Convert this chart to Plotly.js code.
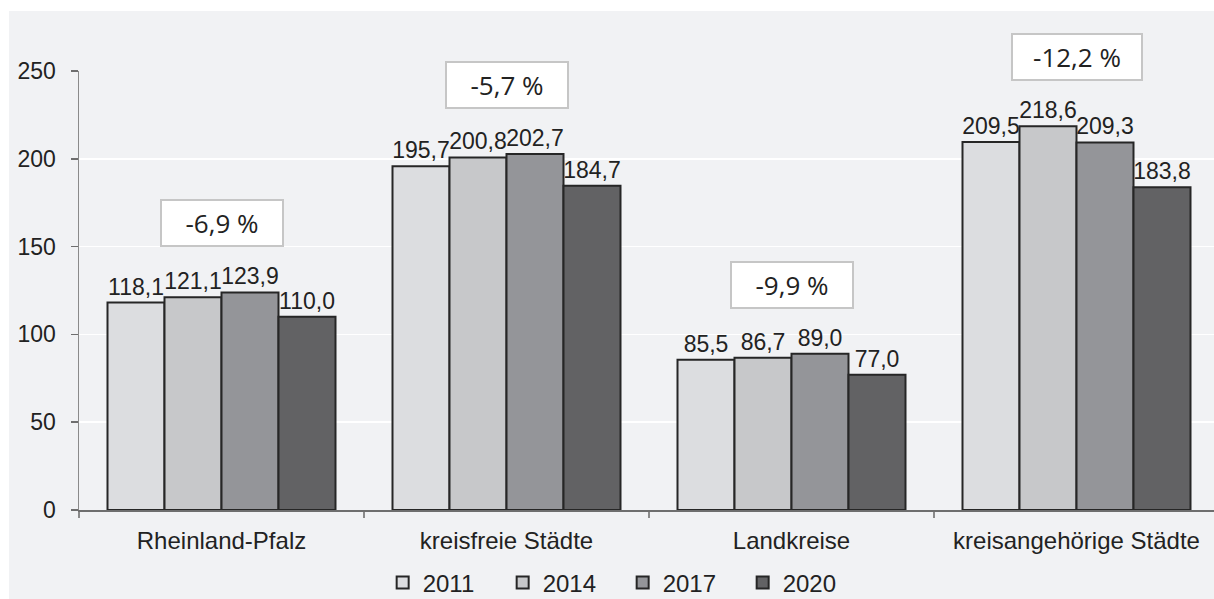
<!DOCTYPE html>
<html>
<head>
<meta charset="utf-8">
<script src="https://cdn.plot.ly/plotly-3.0.1.min.js"></script>
<style>
  html, body { margin: 0; padding: 0; background: #ffffff; }
  #chart { width: 1214px; height: 599px; }
</style>
</head>
<body>
<div id="chart"></div>
<script>
// ---- data ----
const categories = ["Rheinland-Pfalz", "kreisfreie Städte", "Landkreise", "kreisangehörige Städte"];
const years = ["2011", "2014", "2017", "2020"];
const values2011 = [118.1, 195.7, 85.5, 209.5];
const values2014 = [121.1, 200.8, 86.7, 218.6];
const values2017 = [123.9, 202.7, 89.0, 209.3];
const values2020 = [110.0, 184.7, 77.0, 183.8];
const changeLabels = ["-6,9 %", "-5,7 %", "-9,9 %", "-12,2 %"];
const yTicks = [0, 50, 100, 150, 200, 250];

// ---- styles ----
const colors = ["#dcdde0", "#c7c8ca", "#949599", "#626264"];
const series = [values2011, values2014, values2017, values2020];
const baseFont = "Liberation Sans, Arial, sans-serif";

const traces = series.map((vals, i) => ({
  type: "bar",
  name: years[i],
  x: categories,
  y: vals,
  marker: { color: colors[i], line: { color: "#262626", width: 2 } },
  texttemplate: "%{y:.1f}",
  textposition: "outside",
  textfont: { family: baseFont, size: 23, color: "#222222" },
  constraintext: "none",
  cliponaxis: false,
  hoverinfo: "skip"
}));

const annotations = categories.map((c, i) => {
  const top = Math.max(values2011[i], values2014[i], values2017[i], values2020[i]);
  return {
    x: c, xref: "x",
    y: top, yref: "y",
    yshift: 69,
    text: changeLabels[i],
    showarrow: false,
    font: { family: "Open Sans, Lato, sans-serif", size: 26, color: "#222222" },
    bgcolor: "#ffffff",
    bordercolor: "#c6c6c6",
    borderwidth: 2,
    borderpad: 0,
    width: 120 + (changeLabels[i].length > 6 ? 8 : 0),
    height: 44,
    xanchor: "center", yanchor: "middle"
  };
});

const plotLeft = 79, plotW = 1135, plotTop = 71, plotH = 439;
const layout = {
  width: 1214, height: 599,
  margin: { l: plotLeft, r: 0, t: plotTop, b: 599 - plotTop - plotH, pad: 0, autoexpand: false },
  paper_bgcolor: "#ffffff",
  plot_bgcolor: "rgba(0,0,0,0)",
  separators: ",.",
  barmode: "group",
  bargap: 0.2,
  bargroupgap: 0,
  font: { family: baseFont, size: 24, color: "#222222" },
  showlegend: true,
  legend: {
    orientation: "h",
    x: 0.479, xanchor: "center",
    y: -0.166, yanchor: "middle",
    font: { family: baseFont, size: 24, color: "#222222" },
    bgcolor: "rgba(0,0,0,0)",
    traceorder: "normal",
    entrywidth: 75, entrywidthmode: "pixels"
  },
  xaxis: {
    type: "category",
    automargin: false,
    range: [-0.5, -0.5 + plotW / 285],
    showgrid: false,
    zeroline: false,
    showline: true, linecolor: "#6e6e6e", linewidth: 1.5,
    ticks: "outside", tickson: "boundaries", ticklen: 6, tickcolor: "#8a8a8a", tickwidth: 1.5,
    ticklabelstandoff: 9,
    tickfont: { family: baseFont, size: 24, color: "#222222" },
    fixedrange: true
  },
  yaxis: {
    automargin: false,
    range: [0, 250],
    tickvals: yTicks,
    ticktext: yTicks.map(String),
    showgrid: true, gridcolor: "#ffffff", gridwidth: 1.5,
    zeroline: false,
    showline: true, linecolor: "#8a8a8a", linewidth: 1.5,
    ticks: "outside", ticklen: 7, tickcolor: "#6e6e6e", tickwidth: 1.5,
    ticklabelstandoff: 10,
    tickfont: { family: baseFont, size: 23, color: "#222222" },
    fixedrange: true
  },
  shapes: [{
    type: "rect", xref: "paper", yref: "paper", layer: "below",
    x0: (9 - plotLeft) / plotW, x1: 1.01,
    y0: -(599 - plotTop - plotH + 5) / plotH, y1: (plotTop + plotH - 11) / plotH,
    fillcolor: "#f1f2f4", line: { width: 0 }
  }],
  annotations: annotations
};

Plotly.newPlot("chart", traces, layout, { displayModeBar: false, staticPlot: true });
</script>
</body>
</html>
